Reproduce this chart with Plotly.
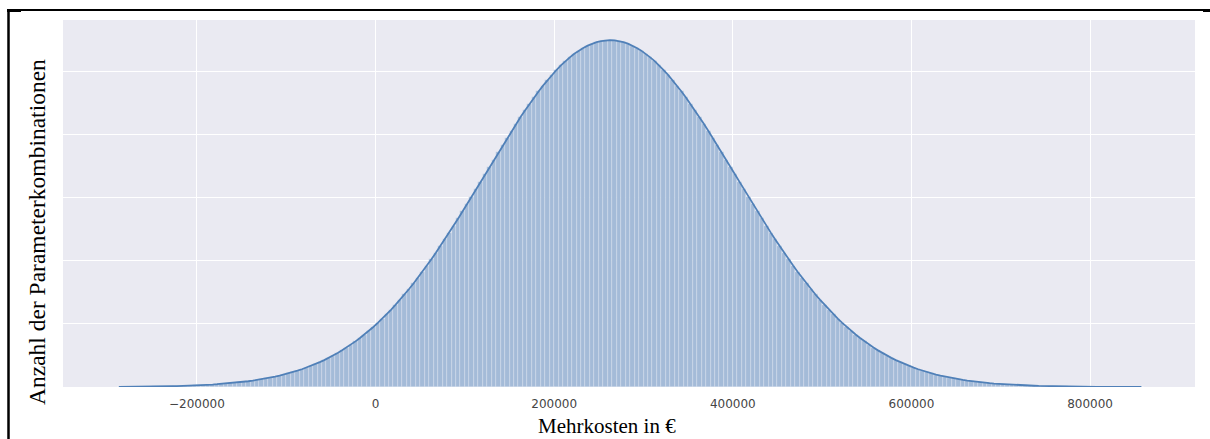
import plotly.graph_objects as go

# ---- data ----
bin_start = -290000          # left edge of first bin
bin_width = 5000             # width of each bin
counts = [
    3, 3, 4, 4, 5, 6, 6, 7, 8, 9,
    11, 12, 14, 15, 17, 20, 22, 25, 28, 31,
    35, 39, 44, 49, 54, 60, 67, 74, 83, 91,
    101, 112, 123, 136, 149, 164, 180, 197, 216, 236,
    258, 281, 306, 333, 362, 393, 426, 461, 498, 538,
    580, 625, 672, 722, 775, 831, 889, 950, 1015, 1082,
    1153, 1226, 1303, 1382, 1465, 1551, 1639, 1731, 1825, 1922,
    2022, 2124, 2229, 2336, 2444, 2555, 2668, 2782, 2897, 3013,
    3130, 3247, 3365, 3483, 3600, 3716, 3832, 3946, 4058, 4169,
    4277, 4382, 4485, 4584, 4679, 4771, 4858, 4940, 5018, 5091,
    5158, 5219, 5275, 5325, 5368, 5405, 5435, 5459, 5476, 5487,
    5490,
    5487, 5476, 5459, 5435, 5405, 5368, 5325, 5275, 5219, 5158,
    5091, 5018, 4940, 4858, 4771, 4679, 4584, 4485, 4382, 4277,
    4169, 4058, 3946, 3832, 3716, 3600, 3483, 3365, 3247, 3130,
    3013, 2897, 2782, 2668, 2555, 2444, 2336, 2229, 2124, 2022,
    1922, 1825, 1731, 1639, 1551, 1465, 1382, 1303, 1226, 1153,
    1082, 1015, 950, 889, 831, 775, 722, 672, 625, 580,
    538, 498, 461, 426, 393, 362, 333, 306, 281, 258,
    236, 216, 197, 180, 164, 149, 136, 123, 112, 101,
    91, 83, 74, 67, 60, 54, 49, 44, 39, 35,
    31, 28, 25, 22, 20, 17, 15, 14, 12, 11,
    9, 8, 7, 6, 6, 5, 4, 4, 3, 3,
    3, 2, 2, 2, 1, 1, 1, 1, 1,
]
bin_centers = [bin_start + bin_width * (i + 0.5) for i in range(len(counts))]

x_tick_values = [-200000, 0, 200000, 400000, 600000, 800000]
x_tick_labels = ["\u2212200000", "0", "200000", "400000", "600000", "800000"]

x_title = "Mehrkosten in €"
y_title = "Anzahl der Parameterkombinationen"

# ---- layout geometry (pixels) ----
W, H = 1210, 439
L, R, T, B = 63, 1195, 20, 387
pw, ph = R - L, B - T

def px(xp):
    return (xp - L) / pw

def py(yp):
    return (B - yp) / ph

fig = go.Figure()
fig.add_trace(go.Bar(
    x=bin_centers, y=counts, width=bin_width,
    marker=dict(color="#A4BBD8", line=dict(color="rgba(255,255,255,0.45)", width=0.5)),
    hoverinfo="skip", showlegend=False,
))
fig.add_trace(go.Scatter(
    x=bin_centers, y=counts, mode="lines",
    line=dict(color="#5080B8", width=1.8),
    hoverinfo="skip", showlegend=False,
))

fig.update_layout(
    width=W, height=H,
    margin=dict(l=L, r=W - R, t=T, b=H - B, pad=0),
    paper_bgcolor="white",
    plot_bgcolor="#EAEAF2",
    bargap=0,
    showlegend=False,
    xaxis=dict(
        range=[-350000, 917500],
        tickvals=x_tick_values, ticktext=x_tick_labels,
        showgrid=True, gridcolor="white", gridwidth=1.3,
        zeroline=False, showline=False,
        ticks="outside", ticklen=6, tickcolor="rgba(0,0,0,0)",
        tickfont=dict(family="DejaVu Sans", size=12, color="#454545"),
    ),
    yaxis=dict(
        range=[0, 5810], dtick=1000,
        showgrid=True, gridcolor="white", gridwidth=1.3,
        zeroline=False, showline=False, showticklabels=False, ticks="",
    ),
    annotations=[
        dict(text=x_title, xref="paper", yref="paper", x=px(607), y=py(426),
             xanchor="center", yanchor="middle", showarrow=False,
             font=dict(family="Liberation Serif", size=21, color="black")),
        dict(text=y_title, xref="paper", yref="paper", x=px(37), y=py(232),
             xanchor="center", yanchor="middle", showarrow=False, textangle=-90,
             font=dict(family="Liberation Serif", size=23.5, color="black")),
    ],
    shapes=[
        dict(type="line", xref="paper", yref="paper", x0=px(7), x1=px(1210), y0=py(10), y1=py(10),
             line=dict(color="black", width=2)),
        dict(type="line", xref="paper", yref="paper", x0=px(8.5), x1=px(8.5), y0=py(9), y1=py(439),
             line=dict(color="black", width=2.5)),
        dict(type="rect", xref="paper", yref="paper", x0=px(7), x1=px(21), y0=py(12), y1=py(9),
             fillcolor="black", line=dict(width=0)),
        dict(type="rect", xref="paper", yref="paper", x0=px(1203), x1=px(1210), y0=py(12), y1=py(9),
             fillcolor="black", line=dict(width=0)),
    ],
)

fig.write_html(
    "out.html",
    config={"displayModeBar": False},
    post_script="document.body.style.margin='0px';document.body.style.overflow='hidden';",
)
